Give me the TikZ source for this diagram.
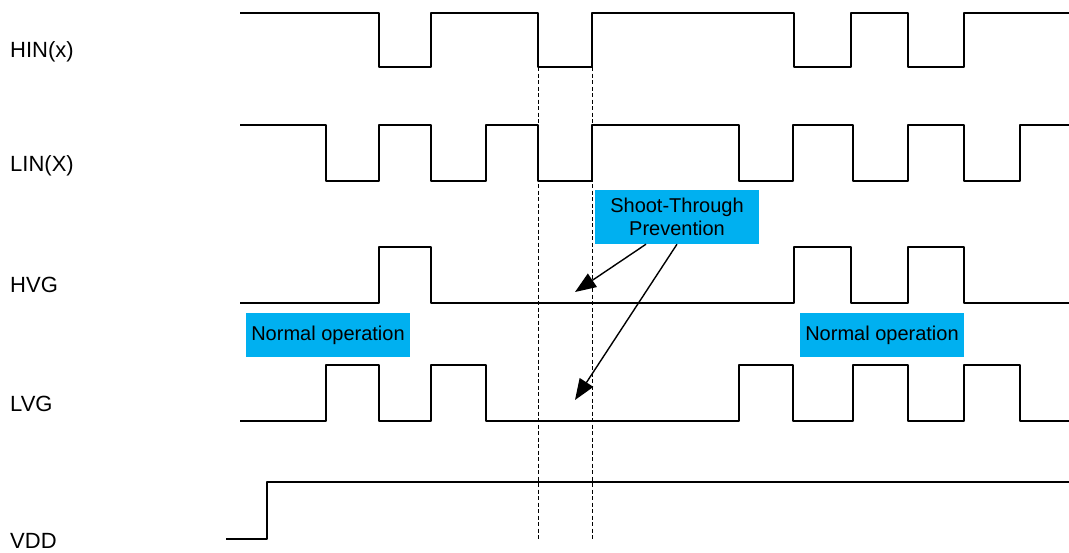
\documentclass[tikz,border=0pt]{standalone}
\usepackage{fontspec}
\setmainfont{Liberation Sans}
\usepackage{tikz}
\usetikzlibrary{arrows.meta, positioning, calc}
\definecolor{NoteCyan}{HTML}{00B0F0}
\tikzset{
  % Signal styles
  signal/.style={line width=2pt, line join=round, black},
  marker/.style={line width=1pt, dash pattern=on 4pt off 2.5pt, black},
  % Box styles
  notebox/.style={rectangle, fill=NoteCyan, inner sep=0pt, minimum width=164pt, minimum height=44pt, font=\fontsize{20}{23}\selectfont, align=center},
  siglabel/.style={anchor=base west, inner sep=0pt, font=\fontsize{22}{26}\selectfont},
  % Arrow styles
  arrow/.style={-{Triangle[length=21pt, width=16pt]}, line width=1.4pt, black}
}
\begin{document}
\begin{tikzpicture}[x=1pt, y=-1pt]
  \useasboundingbox (0,0) rectangle (1069,552);

  % Signal names
  \node[siglabel] (hin) at (10,57) {HIN(x)};
  \node[siglabel] (lin) at (10,171) {LIN(X)};
  \node[siglabel] (hvg) at (10,292) {HVG};
  \node[siglabel] (lvg) at (10,411) {LVG};
  \node[siglabel] (vdd) at (10,548) {VDD};

  % Waveforms
  \draw[signal] (240,13) -- (379,13) -- (379,67) -- (431,67) -- (431,13) -- (538,13) -- (538,67) -- (592,67) -- (592,13) -- (794,13) -- (794,67) -- (851,67) -- (851,13) -- (908,13) -- (908,67) -- (964,67) -- (964,13) -- (1069,13);
  \draw[signal] (240,125) -- (326,125) -- (326,181) -- (379,181) -- (379,125) -- (431,125) -- (431,181) -- (486,181) -- (486,125) -- (538,125) -- (538,181) -- (592,181) -- (592,125) -- (739,125) -- (739,181) -- (793,181) -- (793,125) -- (853,125) -- (853,181) -- (908,181) -- (908,125) -- (964,125) -- (964,181) -- (1020,181) -- (1020,125) -- (1069,125);
  \draw[signal] (240,303) -- (379,303) -- (379,247) -- (431,247) -- (431,303) -- (794,303) -- (794,247) -- (851,247) -- (851,303) -- (908,303) -- (908,247) -- (964,247) -- (964,303) -- (1069,303);
  \draw[signal] (240,421) -- (326,421) -- (326,365) -- (379,365) -- (379,421) -- (431,421) -- (431,365) -- (486,365) -- (486,421) -- (739,421) -- (739,365) -- (793,365) -- (793,421) -- (853,421) -- (853,365) -- (908,365) -- (908,421) -- (964,421) -- (964,365) -- (1020,365) -- (1020,421) -- (1069,421);
  \draw[signal] (226,539) -- (267,539) -- (267,482) -- (1069,482);

  % Dead time markers
  \draw[marker] (538,67) -- (538,539);
  \draw[marker] (592,67) -- (592,539);

  % Notes
  \node[notebox] (normal1) at (328,335) {Normal operation};
  \node[notebox] (normal2) at (882,335) {Normal operation};
  \node[notebox, minimum height=54pt] (shoot) at (677,217) {Shoot-Through\\Prevention};

  % Arrows
  \coordinate (hvgtip) at (575,292);
  \coordinate (lvgtip) at (575,400);
  \draw[arrow] ([xshift=-31pt]shoot.south) -- (hvgtip);
  \draw[arrow] (shoot.south) -- (lvgtip);
\end{tikzpicture}
\end{document}
